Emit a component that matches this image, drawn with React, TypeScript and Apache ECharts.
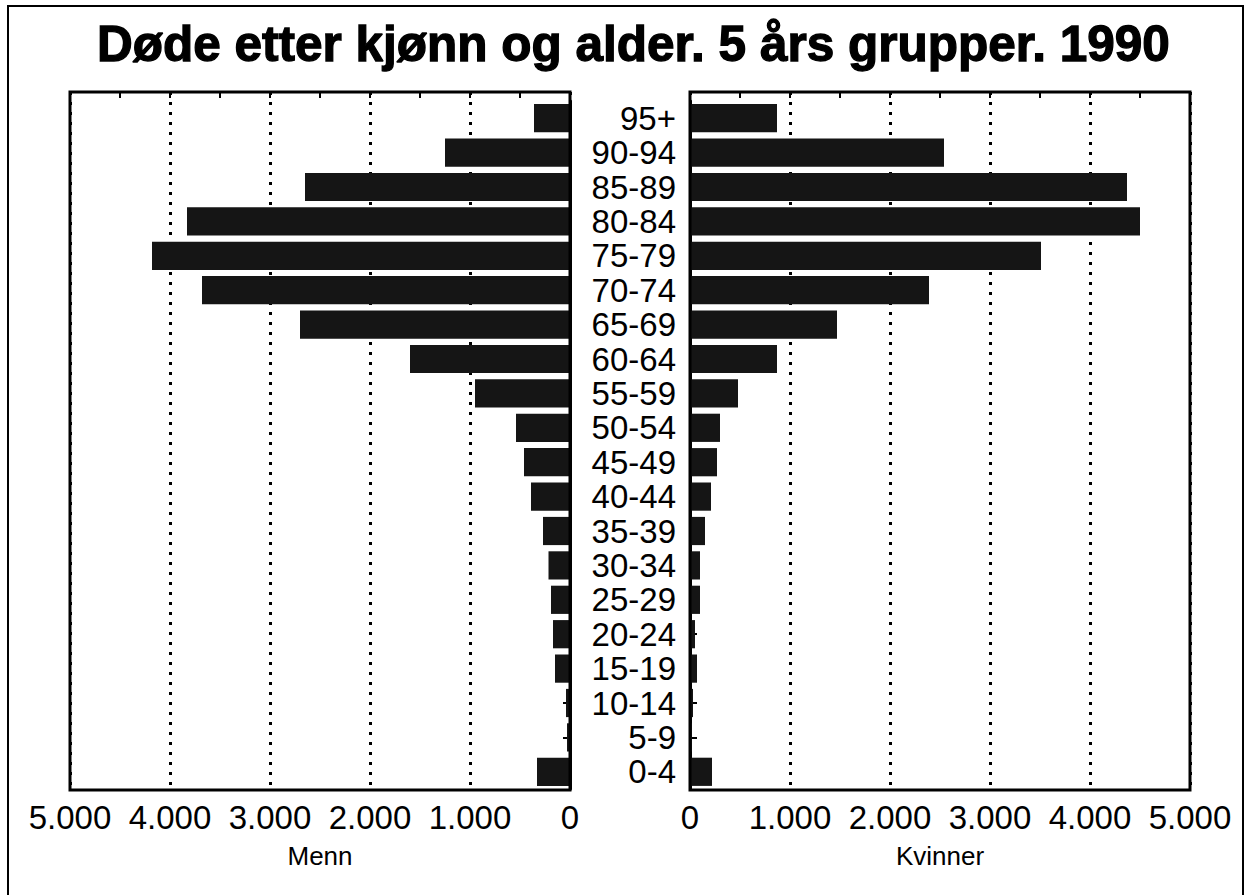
import React, { useEffect, useRef } from "react";
import * as echarts from "echarts";

const TITLE = "Døde etter kjønn og alder. 5 års grupper. 1990";
const categories = ["0-4", "5-9", "10-14", "15-19", "20-24", "25-29", "30-34", "35-39", "40-44", "45-49", "50-54", "55-59", "60-64", "65-69", "70-74", "75-79", "80-84", "85-89", "90-94", "95+"];
const menn = [330, 30, 40, 150, 170, 190, 215, 270, 390, 460, 540, 950, 1600, 2700, 3680, 4180, 3830, 2650, 1250, 360];
const kvinner = [220, 20, 30, 70, 50, 100, 100, 150, 210, 270, 300, 480, 870, 1470, 2390, 3510, 4500, 4370, 2540, 870];
const axisMin = 0;
const axisMax = 5000;
const majorStep = 1000;
const minorStep = 500;
const leftName = "Menn";
const rightName = "Kvinner";

const FONT = "'Liberation Sans', Arial, Helvetica, sans-serif";
const fmt = (v: number) => String(v).replace(/\B(?=(\d{3})+(?!\d))/g, ".");

export default function App() {
  const ref = useRef<HTMLDivElement>(null);
  useEffect(() => {
    if (!ref.current) return;
    const chart = echarts.init(ref.current, null, { renderer: "svg" });
    const W = 1251;
    const frameTop = 92;
    const frameBottom = 790;
    const barTop = 101;
    const barBottom = 789;
    const panels = [
      { left: 70, inverse: true, name: leftName },
      { left: 690, inverse: false, name: rightName },
    ];
    const pw = 500;
    const grids: any[] = [];
    const xAxes: any[] = [];
    const yAxes: any[] = [];
    panels.forEach((p, i) => {
      const gFrame = i * 2;
      const gBars = i * 2 + 1;
      grids.push({ left: p.left, top: frameTop, width: pw, height: frameBottom - frameTop, show: true, borderColor: "#000", borderWidth: 3, backgroundColor: "transparent", z: 5 });
      grids.push({ left: p.left, top: barTop, width: pw, height: barBottom - barTop });
      xAxes.push({
        type: "value", gridIndex: gFrame, position: "bottom", min: axisMin, max: axisMax, interval: majorStep, inverse: p.inverse,
        axisLine: { show: false }, axisTick: { show: false },
        axisLabel: { formatter: (v: number) => fmt(v), fontSize: 33, color: "#000", fontFamily: FONT, margin: 11 },
        splitLine: { show: true, lineStyle: { color: "#000", width: 3, type: [3, 7] } },
        name: p.name, nameLocation: "middle", nameGap: 53,
        nameTextStyle: { fontSize: 26, color: "#000", fontFamily: FONT },
      });
      xAxes.push({
        type: "value", gridIndex: gFrame, position: "top", min: axisMin, max: axisMax, interval: minorStep, inverse: p.inverse,
        axisLine: { show: false }, axisLabel: { show: false }, splitLine: { show: false },
        axisTick: { show: true, inside: true, length: 6, lineStyle: { color: "#000", width: 2 } },
      });
      xAxes.push({ type: "value", gridIndex: gBars, min: axisMin, max: axisMax, inverse: p.inverse, show: false });
      yAxes.push({ type: "value", gridIndex: gFrame, show: false, min: 0, max: 1 });
      yAxes.push({
        type: "category", gridIndex: gBars, data: categories, position: i === 0 ? "right" : "left",
        axisLine: { show: true, lineStyle: { color: "#000", width: 3 } },
        axisTick: { show: true, inside: true, alignWithLabel: true, interval: 0, length: 7, lineStyle: { color: "#000", width: 2 } },
        axisLabel: i === 0 ? { show: false } : { show: true, interval: 0, fontSize: 33, color: "#000", fontFamily: FONT, margin: 14 },
        splitLine: { show: false },
      });
    });
    chart.setOption({
      animation: false,
      backgroundColor: "#fff",
      title: { text: TITLE, left: 92, top: 13, textStyle: { fontSize: 49.5, fontWeight: "bold", color: "#000", fontFamily: FONT, textBorderColor: "#000", textBorderWidth: 1.3 } },
      graphic: [
        { type: "rect", shape: { x: 8, y: 6, width: W - 16, height: 920 }, style: { fill: "none", stroke: "#000", lineWidth: 2 }, silent: true },
      ],
      grid: grids,
      xAxis: xAxes,
      yAxis: yAxes,
      series: [
        { type: "bar", name: leftName, xAxisIndex: 2, yAxisIndex: 1, data: menn, barWidth: "82%", itemStyle: { color: "#151515" } },
        { type: "bar", name: rightName, xAxisIndex: 5, yAxisIndex: 3, data: kvinner, barWidth: "82%", itemStyle: { color: "#151515" } },
      ],
    });
    return () => chart.dispose();
  }, []);
  return <div ref={ref} style={{ position: "fixed", left: 0, top: 0, width: 1251, height: 895, background: "#fff" }} />;
}
